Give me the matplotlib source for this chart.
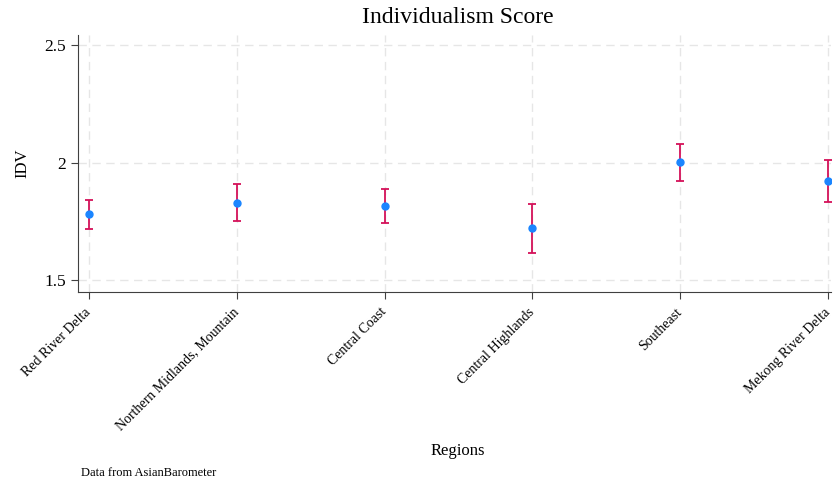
import matplotlib
matplotlib.use("Agg")
import matplotlib.pyplot as plt

plt.rcParams['font.family'] = ['Liberation Serif', 'DejaVu Serif']

# regional means with 95% confidence bounds
regions = ["Red River Delta", "Northern Midlands, Mountain", "Central Coast",
           "Central Highlands", "Southeast", "Mekong River Delta"]
idv_mean = [1.780, 1.829, 1.815, 1.720, 2.001, 1.921]
idv_low = [1.716, 1.750, 1.743, 1.615, 1.921, 1.831]
idv_high = [1.842, 1.910, 1.887, 1.825, 2.080, 2.012]

x = list(range(len(regions)))
err_lo = [m - l for m, l in zip(idv_mean, idv_low)]
err_hi = [h - m for m, h in zip(idv_mean, idv_high)]

fig = plt.figure(figsize=(8.33, 4.82), dpi=100)
ax = fig.add_axes([0.0936, 0.394, 0.904, 0.533])

ax.errorbar(x, idv_mean, yerr=[err_lo, err_hi], fmt='none', ecolor='#D41159',
            elinewidth=1.3, capsize=3, capthick=1.3, zorder=2)
ax.plot(x, idv_mean, 'o', color='#1A85FF', markersize=5, zorder=3)

ax.set_xlim(-0.074, 5.02)
ax.set_ylim(1.449, 2.543)
ax.set_yticks([1.5, 2, 2.5])
ax.set_yticklabels(["1.5", "2", "2.5"], fontsize=12.5)
ax.set_xticks(x)
ax.set_xticklabels(regions, rotation=45, ha='right', va='center',
                   rotation_mode='anchor', fontsize=10)

ax.grid(True, color='#e6e6e6', linestyle=(0, (6, 4)), linewidth=1)
ax.set_axisbelow(True)
for side in ['top', 'right']:
    ax.spines[side].set_visible(False)
for side in ['left', 'bottom']:
    ax.spines[side].set_color('#404040')
ax.tick_params(colors='#404040', labelcolor='black', length=5)
ax.tick_params(axis='x', pad=8)

fig.text(0.549, 0.952, "Individualism Score", ha='center', fontsize=17)
ax.set_ylabel("IDV", fontsize=12, labelpad=10)
fig.text(0.55, 0.055, "Regions", ha='center', fontsize=12)
fig.text(0.097, 0.012, "Data from AsianBarometer", fontsize=9)

fig.savefig("out.png", dpi=100)
